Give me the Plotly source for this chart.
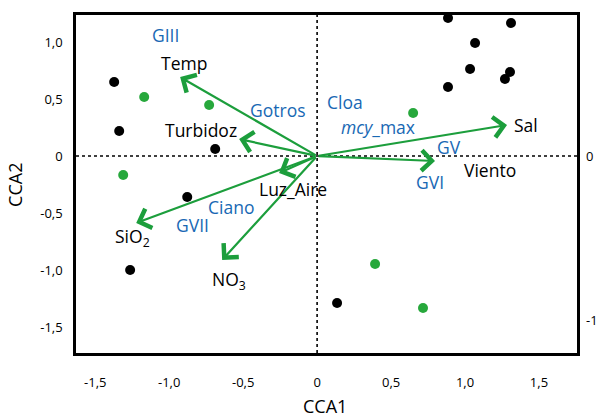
import plotly.graph_objects as go

# ---- data ----
site_black_x = [0.885, 1.311, 1.068, 1.034, 1.304, 1.270, 0.885, -1.372, -1.338, -0.689, -0.878, -1.264, 0.135]
site_black_y = [1.211, 1.167, 0.991, 0.763, 0.737, 0.675, 0.605, 0.649, 0.219, 0.061, -0.360, -1.000, -1.289]
site_green_x = [-1.169, -0.730, -1.311, 0.649, 0.392, 0.716]
site_green_y = [0.518, 0.447, -0.167, 0.377, -0.947, -1.333]

env_names = ["Temp", "Turbidoz", "Luz_Aire", "SiO<sub>2</sub>", "NO<sub>3</sub>", "Sal", "Viento"]
env_x = [-0.926, -0.527, -0.257, -1.223, -0.642, 1.284, 0.797]
env_y = [0.693, 0.149, -0.149, -0.588, -0.912, 0.272, -0.044]
env_label_x = [-0.899, -0.784, -0.162, -1.250, -0.595, 1.412, 1.169]
env_label_y = [0.814, 0.228, -0.289, -0.711, -1.088, 0.272, -0.123]

group_names = ["GIII", "Gotros", "Cloa", "<i>mcy</i>_max", "GV", "GVI", "Ciano", "GVII"]
group_x = [-1.027, -0.264, 0.189, 0.412, 0.892, 0.764, -0.581, -0.845]
group_y = [1.061, 0.404, 0.474, 0.254, 0.079, -0.228, -0.447, -0.605]

x_ticks = [-1.5, -1.0, -0.5, 0, 0.5, 1.0, 1.5]
x_ticktext = ["-1,5", "-1,0", "-0,5", "0", "0,5", "1,0", "1,5"]
y_ticks = [-1.5, -1.0, -0.5, 0, 0.5, 1.0]
y_ticktext = ["-1,5", "-1,0", "-0,5", "0", "0,5", "1,0"]
y2_ticks = [0, -1]
y2_ticktext = ["0", "-1"]

GREEN = "#1c9e3c"
GREEN_PT = "#27a83c"
BLUE = "#1868b4"
FONT = "Open Sans"

fig = go.Figure()

fig.add_trace(go.Scatter(x=site_black_x, y=site_black_y, mode="markers",
                         marker=dict(color="black", size=10), showlegend=False, hoverinfo="skip"))
fig.add_trace(go.Scatter(x=site_green_x, y=site_green_y, mode="markers",
                         marker=dict(color=GREEN_PT, size=10), showlegend=False, hoverinfo="skip"))
# invisible trace for right axis
fig.add_trace(go.Scatter(x=[0], y=[0], yaxis="y2", mode="markers",
                         marker=dict(opacity=0), showlegend=False, hoverinfo="skip"))

# dotted zero lines
fig.add_shape(type="line", xref="x", yref="paper", x0=0, x1=0, y0=0, y1=1,
              line=dict(color="black", width=1.6, dash="dot"), layer="below")
fig.add_shape(type="line", xref="paper", yref="y", x0=0, x1=1, y0=0, y1=0,
              line=dict(color="black", width=1.6, dash="dot"), layer="below")

annotations = []
for xe, ye in zip(env_x, env_y):
    annotations.append(dict(x=xe, y=ye, ax=0, ay=0, xref="x", yref="y", axref="x", ayref="y",
                            showarrow=True, arrowhead=4, arrowsize=1.8, arrowwidth=2.2,
                            arrowcolor=GREEN, text=""))
for name, lx, ly in zip(env_names, env_label_x, env_label_y):
    annotations.append(dict(x=lx, y=ly, xref="x", yref="y", text=name, showarrow=False,
                            font=dict(family=FONT, size=17.5, color="black")))
for name, lx, ly in zip(group_names, group_x, group_y):
    annotations.append(dict(x=lx, y=ly, xref="x", yref="y", text=name, showarrow=False,
                            font=dict(family=FONT, size=17.5, color=BLUE)))

annotations.append(dict(x=0.497, y=-0.158, xref="paper", yref="paper", text="CCA1",
                        xanchor="center", yanchor="middle",
                        showarrow=False, font=dict(family=FONT, size=18, color="black")))
annotations.append(dict(x=-0.122, y=0.497, xref="paper", yref="paper", text="CCA2", textangle=-90,
                        xanchor="center", yanchor="middle",
                        showarrow=False, font=dict(family=FONT, size=18, color="black")))

fig.update_layout(
    width=598, height=419,
    margin=dict(l=76, r=21, t=15, b=66, autoexpand=False),
    paper_bgcolor="white", plot_bgcolor="white",
    font=dict(family=FONT, size=13, color="black"),
    annotations=annotations,
    xaxis=dict(range=[-1.63, 1.757], tickvals=x_ticks, ticktext=x_ticktext, automargin=False,
               showgrid=False, zeroline=False, showline=True, linecolor="black", linewidth=2.5,
               mirror=True, ticks="", ticklen=0, ticklabelstandoff=16, tickfont=dict(size=13)),
    yaxis=dict(range=[-1.728, 1.237], tickvals=y_ticks, ticktext=y_ticktext, automargin=False,
               showgrid=False, zeroline=False, showline=True, linecolor="black", linewidth=2.5,
               mirror=True, ticks="", ticklen=0, ticklabelstandoff=8, tickfont=dict(size=13)),
    yaxis2=dict(range=[-1.201, 0.860], tickvals=y2_ticks, ticktext=y2_ticktext, overlaying="y",
                side="right", showgrid=False, zeroline=False, showline=False, ticks="", ticklen=0,
                automargin=False, ticklabelstandoff=8, tickfont=dict(size=13)),
)

fig.write_html("out.html", config={"displayModeBar": False},
               post_script="document.body.style.margin='0';document.body.style.overflow='hidden';")
